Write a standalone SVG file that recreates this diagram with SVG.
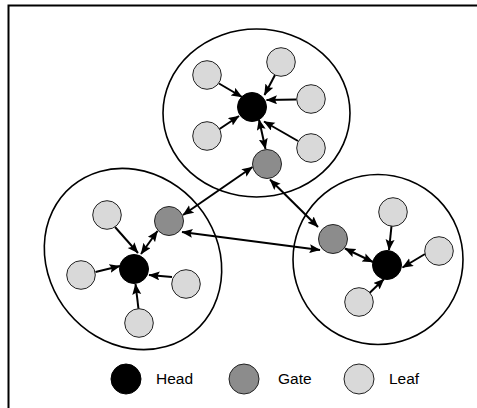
<svg xmlns="http://www.w3.org/2000/svg" width="477" height="408" viewBox="0 0 477 408">
<defs>
<marker id="ah" markerUnits="userSpaceOnUse" markerWidth="12" markerHeight="10" refX="10.5" refY="4.5" orient="auto-start-reverse" viewBox="0 0 12 10">
<path d="M0,0 L11,4.5 L0,9 L2,4.5 z" fill="#000"/>
</marker>
</defs>
<style>
.frame{fill:none;stroke:#000;stroke-width:2}
.cl{fill:none;stroke:#000;stroke-width:1.6}
.head{fill:#000;stroke:#000;stroke-width:1}
.gate{fill:#8c8c8c;stroke:#222;stroke-width:1}
.leaf{fill:#d9d9d9;stroke:#222;stroke-width:1}
.e{stroke:#000;stroke-width:2;fill:none;marker-end:url(#ah)}
.d{stroke:#000;stroke-width:2;fill:none;marker-start:url(#ah);marker-end:url(#ah)}
.t{font-family:"Liberation Sans",Arial,sans-serif;font-size:15.5px;fill:#000}
</style>
<rect class="frame" x="8.5" y="5.5" width="480" height="420"/>
<g id="clusters">
<ellipse id="cluster-top" class="cl" cx="256.5" cy="113" rx="93.5" ry="84"/>
<ellipse id="cluster-left" class="cl" cx="133" cy="259" rx="95" ry="84" transform="rotate(50 133 259)"/>
<circle id="cluster-right" class="cl" cx="378" cy="259.5" r="85"/>
</g>
<g id="connectors">
<line class="e" x1="219" y1="83.5" x2="242" y2="97"/>
<line class="e" x1="275" y1="75" x2="264.5" y2="95"/>
<line class="e" x1="296.5" y1="99.5" x2="266.5" y2="100"/>
<line class="e" x1="219.5" y1="129" x2="239" y2="116"/>
<line class="e" x1="298" y1="141" x2="264" y2="121.5"/>
<line class="d" x1="259" y1="119.5" x2="265.5" y2="149"/>
<line class="d" x1="252.5" y1="167" x2="183" y2="215"/>
<line class="d" x1="270" y1="179.5" x2="318" y2="227"/>
<line class="d" x1="182" y1="232" x2="320" y2="250"/>
<line class="e" x1="115" y1="227" x2="138" y2="253"/>
<line class="d" x1="157.5" y1="231" x2="141" y2="254"/>
<line class="e" x1="95.5" y1="272" x2="120" y2="266"/>
<line class="e" x1="172" y1="277" x2="149" y2="275"/>
<line class="e" x1="138.5" y1="309" x2="135.5" y2="284"/>
<line class="e" x1="391.5" y1="226" x2="389" y2="250"/>
<line class="e" x1="425" y1="254" x2="402.5" y2="267.5"/>
<line class="e" x1="369" y1="293.5" x2="384" y2="279"/>
<line class="d" x1="345" y1="248.5" x2="373" y2="262"/>
</g>
<g id="node-head-top"><circle class="head" cx="252" cy="107" r="14.5"/></g>
<g id="node-leaf-top-1"><circle class="leaf" cx="207" cy="75" r="14.3"/></g>
<g id="node-leaf-top-2"><circle class="leaf" cx="281" cy="62" r="14.3"/></g>
<g id="node-leaf-top-3"><circle class="leaf" cx="311" cy="99" r="14.3"/></g>
<g id="node-leaf-top-4"><circle class="leaf" cx="207" cy="136" r="14.3"/></g>
<g id="node-leaf-top-5"><circle class="leaf" cx="311" cy="148" r="14.3"/></g>
<g id="node-gate-top"><circle class="gate" cx="267" cy="164" r="14.5"/></g>
<g id="node-head-left"><circle class="head" cx="134" cy="269" r="14.5"/></g>
<g id="node-leaf-left-1"><circle class="leaf" cx="107" cy="215" r="14.3"/></g>
<g id="node-leaf-left-2"><circle class="leaf" cx="81" cy="275" r="14.3"/></g>
<g id="node-leaf-left-3"><circle class="leaf" cx="186" cy="284" r="14.3"/></g>
<g id="node-leaf-left-4"><circle class="leaf" cx="139" cy="323" r="14.3"/></g>
<g id="node-gate-left"><circle class="gate" cx="169" cy="221" r="14.5"/></g>
<g id="node-head-right"><circle class="head" cx="387" cy="265" r="14.5"/></g>
<g id="node-leaf-right-1"><circle class="leaf" cx="393" cy="212" r="14.3"/></g>
<g id="node-leaf-right-2"><circle class="leaf" cx="439" cy="251" r="14.3"/></g>
<g id="node-leaf-right-3"><circle class="leaf" cx="359" cy="302" r="14.3"/></g>
<g id="node-gate-right"><circle class="gate" cx="333" cy="239" r="14.5"/></g>
<g id="legend">
<circle class="head" cx="126" cy="379" r="15"/>
<text class="t" x="156" y="384">Head</text>
<circle class="gate" cx="244" cy="379" r="15"/>
<text class="t" x="278" y="384">Gate</text>
<circle class="leaf" cx="359" cy="379" r="15"/>
<text class="t" x="389" y="384">Leaf</text>
</g>
</svg>
